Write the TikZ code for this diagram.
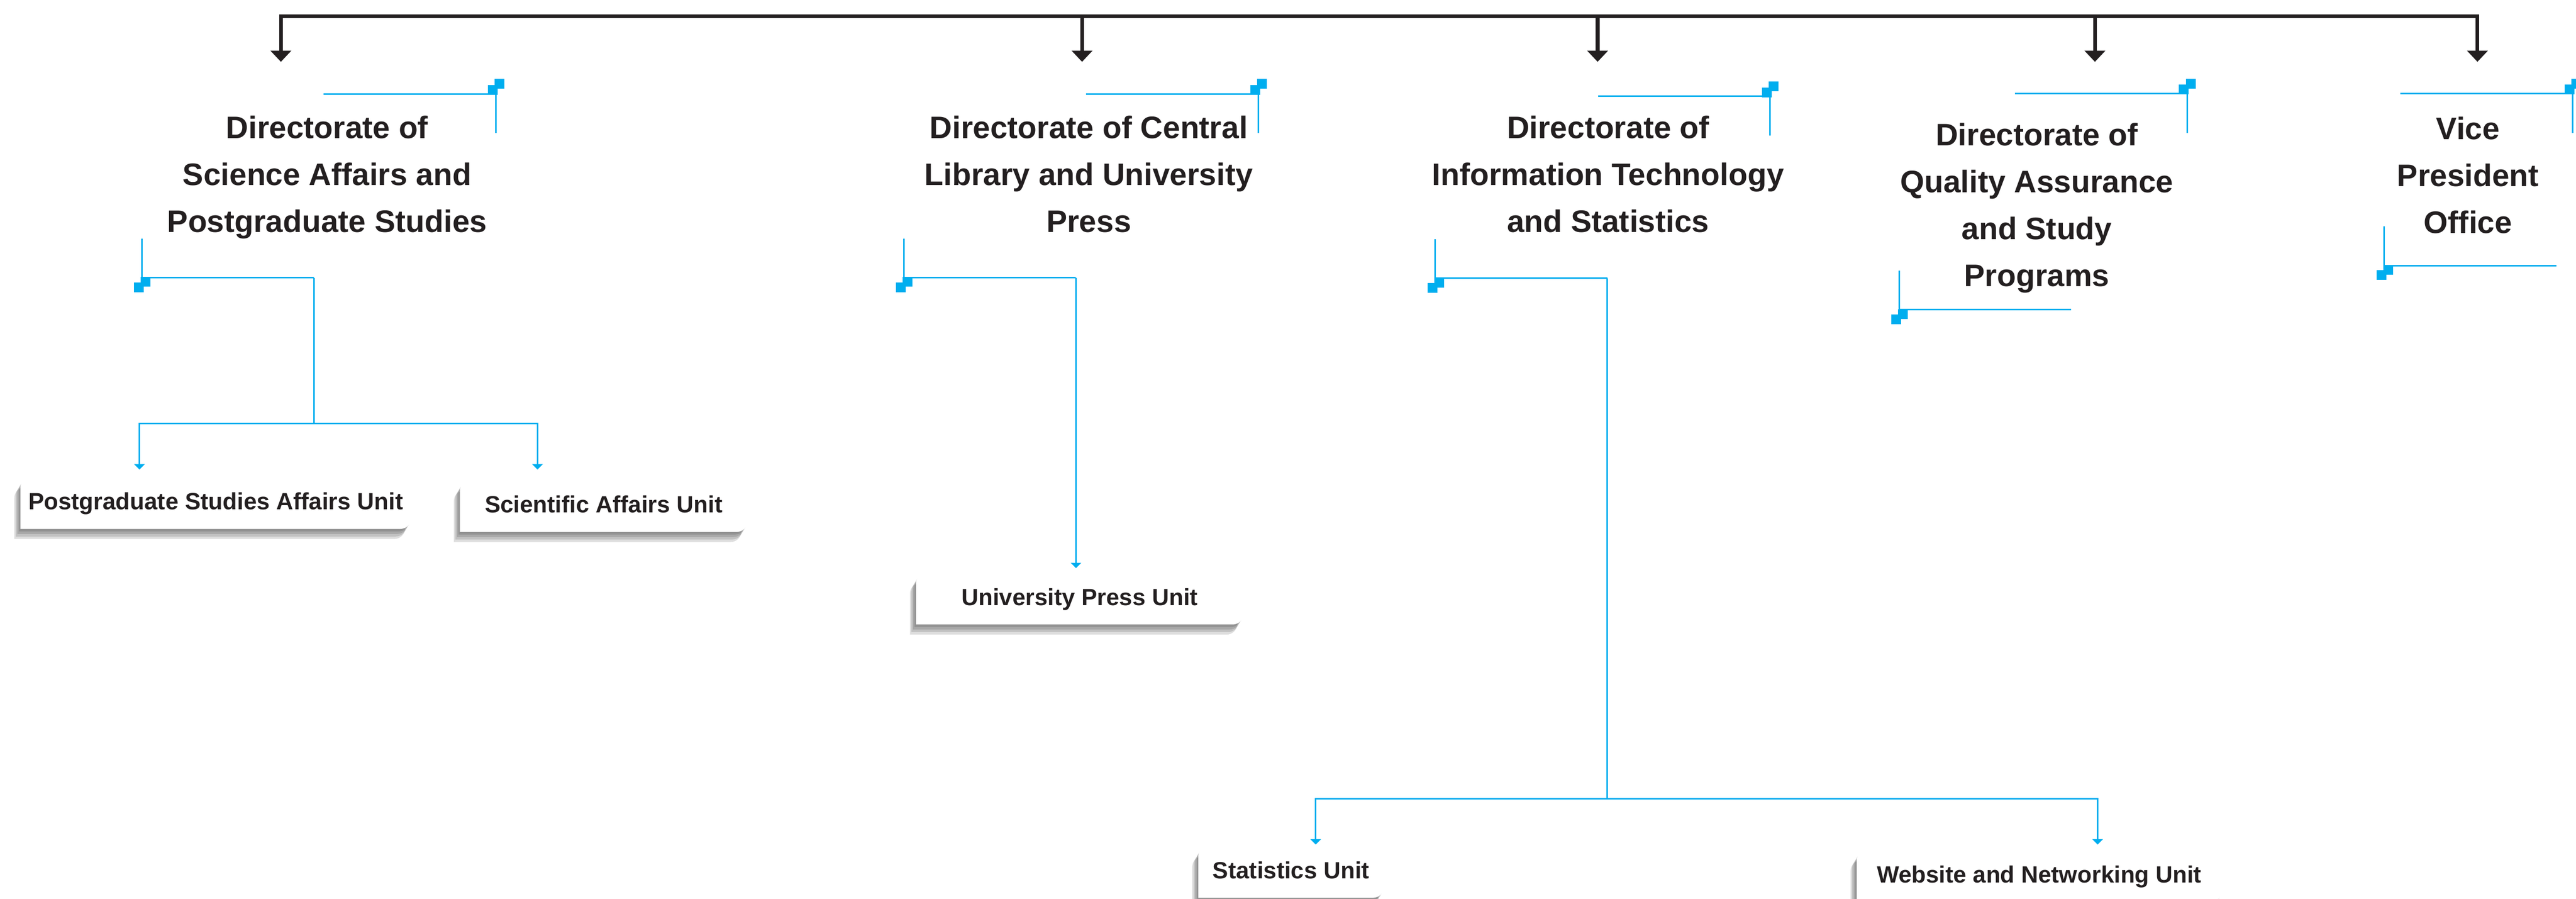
\documentclass[tikz,border=0pt]{standalone}
\usepackage{fontspec}
\setmainfont{Liberation Sans}
\usetikzlibrary{arrows.meta,calc,backgrounds}
\definecolor{cyanline}{HTML}{00AEEF}
\definecolor{inkdark}{HTML}{231F20}
\newcommand{\cardpath}[3]{([shift={(#2,#3)}]#1.south west) -- ([shift={(#2,#3-0.32)}]#1.north west) arc[start angle=180,end angle=90,radius=0.32] -- ([shift={(#2,#3)}]#1.north east) -- ([shift={(#2,#3+0.32)}]#1.south east) arc[start angle=0,end angle=-90,radius=0.32] -- cycle}
\newcommand{\topcorner}[1]{%
	\draw[link] ($(#1)+(-5.1,0)$) -- (#1) -- ++(0,-1.16);
	\fill[corner] ($(#1)+(-0.24,-0.03)$) rectangle ++(0.29,0.29);
	\fill[corner] ($(#1)+(-0.04,0.15)$) rectangle ++(0.29,0.29);}
\newcommand{\bottomcorner}[1]{%
	\draw[link] ($(#1)+(0,1.16)$) -- (#1) -- ++(5.1,0) coordinate (#1out);
	\fill[corner] ($(#1)+(-0.03,0.02)$) rectangle ++(0.29,-0.29);
	\fill[corner] ($(#1)+(-0.23,-0.14)$) rectangle ++(0.29,-0.29);}

\tikzset{
	trunk/.style={line width=3.1pt, draw=inkdark, >={Triangle[width=0.6cm,length=0.33cm]}},
	link/.style={line width=1.3pt, draw=cyanline},
	linkarrow/.style={link, -{Triangle[width=0.31cm,length=0.16cm]}},
	corner/.style={fill=cyanline},
	dirtext/.style={font=\bfseries\fontsize{26.2}{39.5}\selectfont, text=inkdark, align=center, inner sep=0pt, anchor=base},
	unitbox/.style={font=\bfseries\fontsize{19.8}{24}\selectfont, text=inkdark, inner sep=0pt, minimum height=1.52cm, text height=0.49cm, text depth=0.1cm}
}

\begin{document}
\begin{tikzpicture}
		%%%%% START %%%%%
		\useasboundingbox (0,0) rectangle (76.30,-26.60);
		
		\coordinate (rail) at (0,-0.485);
		\coordinate (a1) at (8.32,-1.83);
		\coordinate (a2) at (32.05,-1.83);
		\coordinate (a3) at (47.32,-1.83);
		\coordinate (a4) at (62.05,-1.83);
		\coordinate (a5) at (73.38,-1.83);
		\draw[trunk,<->] (a1) -- (a1 |- rail) -- (a5 |- rail) -- (a5);
		\foreach \a in {a2,a3,a4}
			\draw[trunk,->] (\a |- rail) -- (\a);
		
		% base = last line
		\node[dirtext] (d1) at (9.69,-6.88) {Directorate of\\Science Affairs and\\Postgraduate Studies};
		\node[dirtext] (d2) at (32.25,-6.87) {Directorate of Central\\Library and University\\Press};
		\node[dirtext] (d3) at (47.63,-6.87) {Directorate of\\Information Technology\\and Statistics};
		\node[dirtext] (d4) at (60.33,-8.47) {Directorate of\\Quality Assurance\\and Study\\Programs};
		\node[dirtext] (d5) at (73.10,-6.91) {Vice\\President\\Office};
		
		\coordinate (tr1) at (14.69,-2.78);
		\coordinate (tr2) at (37.27,-2.78);
		\coordinate (tr3) at (52.43,-2.85);
		\coordinate (tr4) at (64.78,-2.77);
		\coordinate (tr5) at (76.20,-2.77);
		\coordinate (bl1) at (4.20,-8.22);
		\coordinate (bl2) at (26.77,-8.22);
		\coordinate (bl3) at (42.51,-8.24);
		\coordinate (bl4) at (56.25,-9.17);
		\coordinate (bl5) at (70.62,-7.86);
		\foreach \c in {tr1,tr2,tr3,tr4,tr5}
			{\topcorner{\c}}
		\foreach \c in {bl1,bl2,bl3,bl4,bl5}
			{\bottomcorner{\c}}
		
		\node[unitbox, minimum width=11.56cm] (u1) at (6.39,-14.89) {Postgraduate Studies Affairs Unit};
		\node[unitbox, minimum width=8.50cm] (u2) at (17.88,-14.98) {Scientific Affairs Unit};
		\node[unitbox, minimum width=9.68cm] (u3) at (31.98,-17.72) {University Press Unit};
		\node[unitbox, minimum width=5.48cm] (u4) at (38.24,-25.81) {Statistics Unit};
		\node[unitbox, minimum width=10.80cm] (u5) at (60.40,-25.93) {Website and Networking Unit};
		
		\coordinate (u1in) at (4.13,-13.90);
		\coordinate (u2in) at (15.92,-13.90);
		\coordinate (u3in) at (31.88,-16.82);
		\coordinate (u4in) at (38.97,-25.00);
		\coordinate (u5in) at (62.13,-25.00);
		
		\draw[link] (bl1out) -- ++(0,-4.32) coordinate (bus1);
		\draw[linkarrow] (bus1) -| (u1in);
		\draw[linkarrow] (bus1) -| (u2in);
		
		\draw[linkarrow] (bl2out) -- (bl2out |- u3in);
		
		\draw[link] (bl3out) -- ++(0,-15.40) coordinate (bus3);
		\draw[linkarrow] (bus3) -| (u4in);
		\draw[linkarrow] (bus3) -| (u5in);
		
		\begin{scope}[on background layer]
			\foreach \u in {u1,u2,u3,u4,u5} {
				\foreach \k in {1,...,4}
					{\fill[black, opacity=0.13] \cardpath{\u}{-0.045*\k}{-0.075*\k};}
				\fill[white] \cardpath{\u}{0}{0};
			}
		\end{scope}
		%%%%% END %%%%%
\end{tikzpicture}
\end{document}
